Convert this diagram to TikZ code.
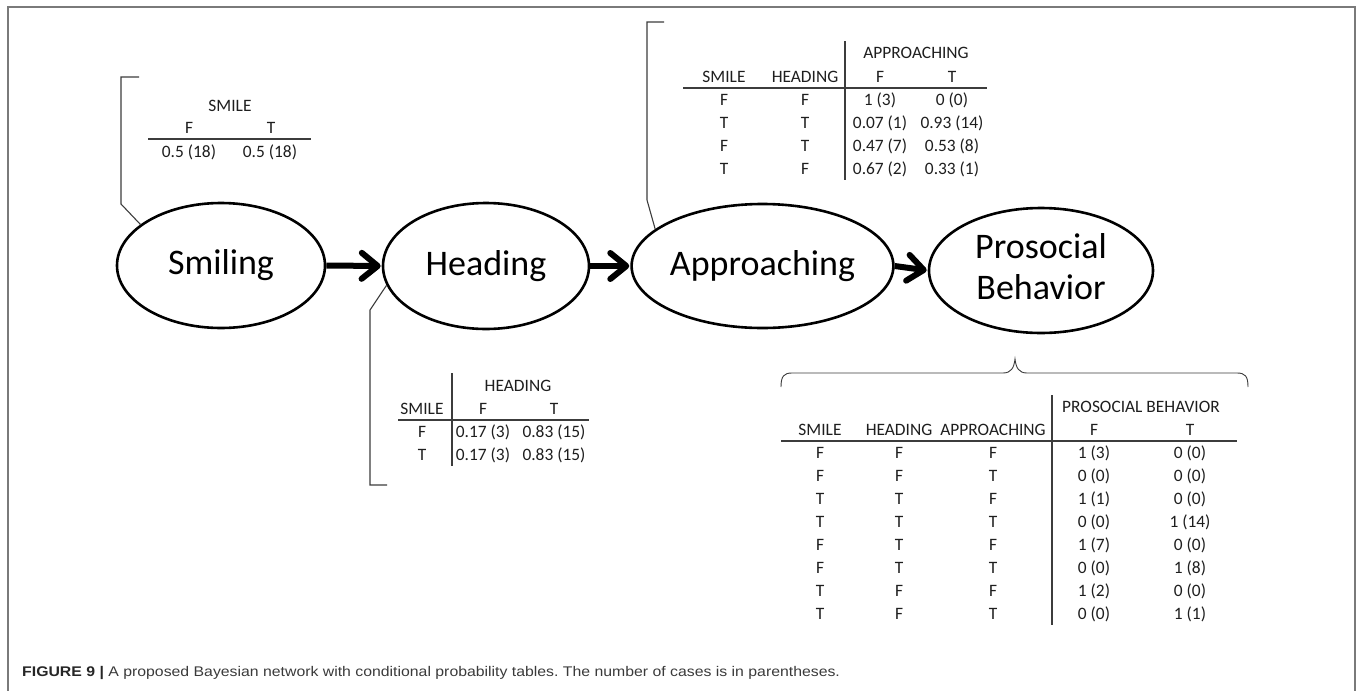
\documentclass[tikz,border=0pt]{standalone}
\usepackage{fontspec}
\setmainfont{Carlito}
\newfontfamily\capfont{Liberation Sans}
\usetikzlibrary{arrows.meta,shapes.geometric}
\definecolor{framegray}{HTML}{7A7A7A}
\definecolor{linegray}{HTML}{3C3C3C}
\definecolor{txt}{HTML}{1E1E1E}
\definecolor{captxt}{HTML}{3A3A3A}
\frenchspacing
\tikzset{
  var/.style={ellipse, draw=black, line width=2.6pt, inner sep=0pt, font=\fontsize{36}{42}\selectfont, align=center},
  arr/.style={line width=6pt, -{Straight Barb[length=16pt,width=26pt,line cap=round,line join=round]}, shorten >=1pt},
  callout/.style={draw=linegray, line width=1.1pt},
  rule/.style={draw=linegray, line width=1.1pt},
  t/.style={inner sep=0pt, text height=11pt, text depth=0pt, anchor=center, font=\fontsize{17.4}{20}\selectfont, text=txt},
}
\begin{document}
\begin{tikzpicture}[x=1pt,y=-1pt]
\useasboundingbox (0,0) rectangle (1358,691);
% frame
\draw[framegray, line width=2pt] (7.5,692) -- (7.5,6.5) -- (1355,6.5) -- (1355,692);

% variable nodes
\node[var, minimum width=208pt, minimum height=125pt] (smile) at (221,265.5) {Smiling};
\node[var, minimum width=206pt, minimum height=126pt] (head) at (486,266) {Heading};
\node[var, minimum width=229pt, minimum height=124pt] (appr) at (762.5,266) {Approaching};
\node[var, minimum width=224pt, minimum height=125pt] (pros) at (1041,270.5) {};
\node[font=\fontsize{36}{42}\selectfont, inner sep=0pt, text height=25pt, text depth=0pt] (prosA) at (1041,246) {Prosocial};
\node[font=\fontsize{36}{42}\selectfont, inner sep=0pt, text height=25pt, text depth=0pt] (prosB) at (1041,287) {Behavior};

% arrows
\draw[arr] (smile.east) -- (head.west);
\draw[arr] (head.east) -- (appr.west);
\draw[arr] (appr.east) -- (pros.west);

% ---- SMILE table ----
\coordinate (c1a) at (139,77);
\coordinate (c1b) at (121,77);
\coordinate (c1c) at (121,204);
\draw[callout] (c1a) -- (c1b) -- (c1c) -- (smile.153);
\node[t] (s0) at (230,106) {SMILE};
\node[t] (s1) at (189,128) {F};
\node[t] (s2) at (271,128) {T};
\coordinate (s3) at (148,139);
\coordinate (s4) at (311,139);
\draw[rule] (s3) -- (s4);
\node[t] (s5) at (189,152) {0.5 (18)};
\node[t] (s6) at (270,152) {0.5 (18)};

% ---- HEADING table ----
\coordinate (c2a) at (370,310);
\coordinate (c2b) at (370,485);
\coordinate (c2c) at (387,485);
\draw[callout] (head.191) -- (c2a) -- (c2b) -- (c2c);
\coordinate (h1) at (452,373);
\coordinate (h2) at (452,466);
\draw[rule] (h1) -- (h2);
\coordinate (h3) at (398,420);
\coordinate (h4) at (589,420);
\draw[rule] (h3) -- (h4);
\node[t] (hh) at (518,386) {HEADING};
\node[t] (hs) at (422,409) {SMILE};
\node[t] (hf) at (483,409) {F};
\node[t] (ht) at (554,409) {T};
\node[t] (hr1a) at (422,432) {F};
\node[t] (hr1b) at (483,432) {0.17 (3)};
\node[t] (hr1c) at (554,432) {0.83 (15)};
\node[t] (hr2a) at (422,455) {T};
\node[t] (hr2b) at (483,455) {0.17 (3)};
\node[t] (hr2c) at (554,455) {0.83 (15)};

% ---- APPROACHING table ----
\coordinate (c3a) at (664,22);
\coordinate (c3b) at (647,22);
\coordinate (c3c) at (647,200);
\draw[callout] (c3a) -- (c3b) -- (c3c) -- (appr.161);
\coordinate (a1) at (845,41);
\coordinate (a2) at (845,180);
\draw[rule] (a1) -- (a2);
\coordinate (a3) at (683,88);
\coordinate (a4) at (987,88);
\draw[rule] (a3) -- (a4);
\node[t] (ah) at (916,53) {APPROACHING};
\node[t] (as) at (724,77) {SMILE};
\node[t] (ahd) at (805,77) {HEADING};
\node[t] (af) at (880,77) {F};
\node[t] (at) at (952,77) {T};
\foreach \y/\s/\h/\f/\tt [count=\i] in {100/F/F/1 (3)/0 (0), 123/T/T/0.07 (1)/0.93 (14), 146/F/T/0.47 (7)/0.53 (8), 169/T/F/0.67 (2)/0.33 (1)}{
  \node[t] (ar\i a) at (724,\y) {\s};
  \node[t] (ar\i b) at (805,\y) {\h};
  \node[t] (ar\i c) at (880,\y) {\f};
  \node[t] (ar\i d) at (952,\y) {\tt};
}

% ---- PROSOCIAL table ----
\coordinate (b1) at (781,387);
\coordinate (b2) at (1248,387);
\coordinate (bc) at (1015,359);
\draw[callout, line width=0.9pt] (b1) .. controls (781,376) and (784,373) .. (792,373) -- (1003,373) .. controls (1011,373) and (1014,368) .. (bc) .. controls (1016,368) and (1019,373) .. (1027,373) -- (1237,373) .. controls (1245,373) and (1248,376) .. (b2);
\coordinate (p1) at (1052,395);
\coordinate (p2) at (1052,625);
\draw[rule] (p1) -- (p2);
\coordinate (p3) at (781,441);
\coordinate (p4) at (1237,441);
\draw[rule] (p3) -- (p4);
\node[t] (ph) at (1141,407) {PROSOCIAL BEHAVIOR};
\node[t] (ps) at (820,430) {SMILE};
\node[t] (phd) at (899,430) {HEADING};
\node[t] (pap) at (993,430) {APPROACHING};
\node[t] (pf) at (1094,430) {F};
\node[t] (pt) at (1190,430) {T};
\foreach \y/\s/\h/\a/\f/\tt [count=\i] in {
  453/F/F/F/1 (3)/0 (0),
  476/F/F/T/0 (0)/0 (0),
  499/T/T/F/1 (1)/0 (0),
  522/T/T/T/0 (0)/1 (14),
  545/F/T/F/1 (7)/0 (0),
  568/F/T/T/0 (0)/1 (8),
  591/T/F/F/1 (2)/0 (0),
  614/T/F/T/0 (0)/1 (1)}{
  \node[t] (pr\i a) at (820,\y) {\s};
  \node[t] (pr\i b) at (899,\y) {\h};
  \node[t] (pr\i c) at (993,\y) {\a};
  \node[t] (pr\i d) at (1094,\y) {\f};
  \node[t] (pr\i e) at (1190,\y) {\tt};
}

% caption
\node[anchor=base west, inner sep=0pt, font=\capfont\fontsize{14}{16}\selectfont, text=captxt] (cap) at (22,676)
  {\scalebox{1.13}[1]{\textbf{\color{black!85}FIGURE 9 |} A proposed Bayesian network with conditional probability tables. The number of cases is in parentheses.}};
\end{tikzpicture}
\end{document}
